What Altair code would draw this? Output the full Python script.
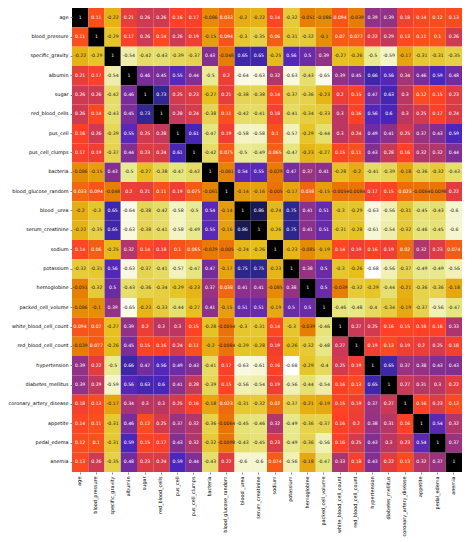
import altair as alt
import pandas as pd

labels = ["age", "blood_pressure", "specific_gravity", "albumin", "sugar",
          "red_blood_cells", "pus_cell", "pus_cell_clumps", "bacteria",
          "blood_glucose_random", "blood _urea", "serum_creatinine", "sodium",
          "potassium", "hemoglobine", "packed_cell_volume",
          "white_blood_cell_count", "red_blood_cell_count", "hypertension",
          "diabetes_mellitus", "coronary_artery_disease", "appetite",
          "pedal_edema", "anemia"]

age = [1, 0.11, -0.22, 0.21, 0.26, 0.26, 0.16, 0.17, -0.086, 0.033, -0.2, -0.22, 0.14, -0.32, -0.051, -0.086, 0.094, -0.039, 0.39, 0.39, 0.18, 0.14, 0.12, 0.13]
blood_pressure = [0.11, 1, -0.29, 0.17, 0.26, 0.14, 0.26, 0.19, -0.15, 0.094, -0.3, -0.35, 0.06, -0.31, -0.32, -0.1, 0.07, 0.077, 0.22, 0.29, 0.13, 0.11, 0.1, 0.26]
specific_gravity = [-0.22, -0.29, 1, -0.54, -0.42, -0.43, -0.39, -0.37, 0.43, -0.048, 0.65, 0.65, -0.25, 0.56, 0.5, 0.39, -0.27, -0.26, -0.5, -0.59, -0.17, -0.31, -0.31, -0.35]
albumin = [0.21, 0.17, -0.54, 1, 0.46, 0.45, 0.55, 0.44, -0.5, 0.2, -0.64, -0.63, 0.32, -0.63, -0.43, -0.65, 0.39, 0.45, 0.66, 0.56, 0.34, 0.46, 0.59, 0.48]
sugar = [0.26, 0.26, -0.42, 0.46, 1, 0.73, 0.25, 0.23, -0.27, 0.21, -0.38, -0.38, 0.14, -0.37, -0.36, -0.23, 0.2, 0.15, 0.47, 0.63, 0.3, 0.12, 0.15, 0.23]
red_blood_cells = [0.26, 0.14, -0.43, 0.45, 0.73, 1, 0.28, 0.24, -0.38, 0.11, -0.42, -0.41, 0.18, -0.41, -0.34, -0.33, 0.3, 0.16, 0.56, 0.6, 0.3, 0.25, 0.17, 0.24]
pus_cell = [0.16, 0.26, -0.39, 0.55, 0.25, 0.28, 1, 0.61, -0.47, 0.19, -0.58, -0.58, 0.1, -0.57, -0.29, -0.44, 0.3, 0.24, 0.49, 0.41, 0.25, 0.37, 0.43, 0.59]
pus_cell_clumps = [0.17, 0.19, -0.37, 0.44, 0.23, 0.24, 0.61, 1, -0.42, 0.075, -0.5, -0.49, 0.065, -0.47, -0.23, -0.27, 0.15, 0.11, 0.43, 0.28, 0.16, 0.32, 0.32, 0.44]
bacteria = [-0.086, -0.15, 0.43, -0.5, -0.27, -0.38, -0.47, -0.42, 1, -0.061, 0.54, 0.55, -0.029, 0.47, 0.37, 0.41, -0.28, -0.2, -0.41, -0.39, -0.18, -0.36, -0.32, -0.43]
blood_glucose_random = [0.033, 0.094, -0.048, 0.2, 0.21, 0.11, 0.19, 0.075, -0.061, 1, -0.14, -0.16, -0.005, -0.17, 0.038, -0.15, -0.0054, -0.0084, 0.17, 0.15, 0.023, -0.0064, -0.0098, 0.22]
blood_urea = [-0.2, -0.3, 0.65, -0.64, -0.38, -0.42, -0.58, -0.5, 0.54, -0.14, 1, 0.86, -0.24, 0.75, 0.41, 0.51, -0.3, -0.29, -0.63, -0.56, -0.31, -0.45, -0.43, -0.6]
serum_creatinine = [-0.22, -0.35, 0.65, -0.63, -0.38, -0.41, -0.58, -0.49, 0.55, -0.16, 0.86, 1, -0.26, 0.75, 0.41, 0.51, -0.31, -0.28, -0.61, -0.54, -0.32, -0.46, -0.45, -0.6]
sodium = [0.14, 0.06, -0.25, 0.32, 0.14, 0.18, 0.1, 0.065, -0.029, -0.005, -0.24, -0.26, 1, -0.23, -0.085, -0.19, 0.14, 0.19, 0.16, 0.19, 0.02, 0.32, 0.23, 0.074]
potassium = [-0.32, -0.31, 0.56, -0.63, -0.37, -0.41, -0.57, -0.47, 0.47, -0.17, 0.75, 0.75, -0.23, 1, 0.38, 0.5, -0.3, -0.26, -0.68, -0.56, -0.37, -0.49, -0.49, -0.56]
hemoglobine = [-0.051, -0.32, 0.5, -0.43, -0.36, -0.34, -0.29, -0.23, 0.37, 0.038, 0.41, 0.41, -0.085, 0.38, 1, 0.5, -0.039, -0.32, -0.29, -0.44, -0.21, -0.36, -0.36, -0.18]
packed_cell_volume = [-0.086, -0.1, 0.39, -0.65, -0.23, -0.33, -0.44, -0.27, 0.41, -0.15, 0.51, 0.51, -0.19, 0.5, 0.5, 1, -0.46, -0.48, -0.4, -0.34, -0.19, -0.37, -0.56, -0.47]
white_blood_cell_count = [0.094, 0.07, -0.27, 0.39, 0.2, 0.3, 0.3, 0.15, -0.28, -0.0054, -0.3, -0.31, 0.14, -0.3, -0.039, -0.46, 1, 0.27, 0.25, 0.16, 0.15, 0.16, 0.16, 0.33]
red_blood_cell_count = [-0.039, 0.077, -0.26, 0.45, 0.15, 0.16, 0.24, 0.11, -0.2, -0.0084, -0.29, -0.28, 0.19, -0.26, -0.32, -0.48, 0.27, 1, 0.19, 0.13, 0.19, 0.2, 0.25, 0.18]
hypertension = [0.39, 0.22, -0.5, 0.66, 0.47, 0.56, 0.49, 0.43, -0.41, 0.17, -0.63, -0.61, 0.16, -0.68, -0.29, -0.4, 0.25, 0.19, 1, 0.65, 0.37, 0.38, 0.43, 0.43]
diabetes_mellitus = [0.39, 0.29, -0.59, 0.56, 0.63, 0.6, 0.41, 0.28, -0.39, 0.15, -0.56, -0.54, 0.19, -0.56, -0.44, -0.54, 0.16, 0.13, 0.65, 1, 0.27, 0.31, 0.3, 0.22]
coronary_artery_disease = [0.18, 0.13, -0.17, 0.34, 0.3, 0.3, 0.25, 0.16, -0.18, 0.023, -0.31, -0.32, 0.02, -0.37, -0.21, -0.19, 0.15, 0.19, 0.37, 0.27, 1, 0.16, 0.23, 0.13]
appetite = [0.14, 0.11, -0.31, 0.46, 0.12, 0.25, 0.37, 0.32, -0.36, -0.0064, -0.45, -0.46, 0.32, -0.49, -0.36, -0.37, 0.16, 0.2, 0.38, 0.31, 0.16, 1, 0.54, 0.32]
pedal_edema = [0.12, 0.1, -0.31, 0.59, 0.15, 0.17, 0.43, 0.32, -0.32, -0.0098, -0.43, -0.45, 0.23, -0.49, -0.36, -0.56, 0.16, 0.25, 0.43, 0.3, 0.23, 0.54, 1, 0.37]
anemia = [0.13, 0.26, -0.35, 0.48, 0.23, 0.24, 0.59, 0.44, -0.43, 0.22, -0.6, -0.6, 0.074, -0.56, -0.18, -0.47, 0.33, 0.18, 0.43, 0.22, 0.13, 0.32, 0.37, 1]

rows = [age, blood_pressure, specific_gravity, albumin, sugar, red_blood_cells,
        pus_cell, pus_cell_clumps, bacteria, blood_glucose_random, blood_urea,
        serum_creatinine, sodium, potassium, hemoglobine, packed_cell_volume,
        white_blood_cell_count, red_blood_cell_count, hypertension,
        diabetes_mellitus, coronary_artery_disease, appetite, pedal_edema, anemia]

records = []
for i, r in enumerate(rows):
    for j, v in enumerate(r):
        records.append({"row": labels[i], "col": labels[j], "value": v,
                        "label": f"{v:.2g}"})
df = pd.DataFrame(records)

# reversed CMRmap
stops = [-0.68, -0.47, -0.26, -0.05, 0.16, 0.37, 0.58, 0.79, 1.0]
cmap = ["#ffffff", "#e6e680", "#e6bf1a", "#e68000", "#ff4026",
        "#993380", "#4d26bf", "#262680", "#000000"]

x_enc = alt.X("col:N", sort=labels, title=None,
              axis=alt.Axis(labelAngle=270, labelFontSize=4.9, tickSize=2,
                            labelPadding=2, domain=False, labelColor="#000",
                            labelLimit=0))
y_enc = alt.Y("row:N", sort=labels, title=None,
              axis=alt.Axis(labelFontSize=4.9, tickSize=2, labelPadding=2,
                            domain=False, labelColor="#000", labelLimit=0))

rect = alt.Chart(df).mark_rect().encode(
    x=x_enc, y=y_enc,
    color=alt.Color("value:Q", legend=None,
                    scale=alt.Scale(domain=stops, range=cmap, interpolate="rgb")),
)

text = alt.Chart(df).mark_text(fontSize=4.6, font="DejaVu Sans").encode(
    x=alt.X("col:N", sort=labels),
    y=alt.Y("row:N", sort=labels),
    text="label:N",
    color=alt.condition(alt.datum.value < 0, alt.value("#262626"), alt.value("#ffffff")),
)

chart = alt.layer(rect, text).properties(
    width=390, height=464,
    padding={"left": 64, "top": 0, "right": 0, "bottom": 68},
    autosize=alt.AutoSizeParams(type="none"),
).configure_view(stroke=None).configure_axis(labelFont="DejaVu Sans")

chart.save("out.html", embed_options={"renderer": "svg", "actions": False})
